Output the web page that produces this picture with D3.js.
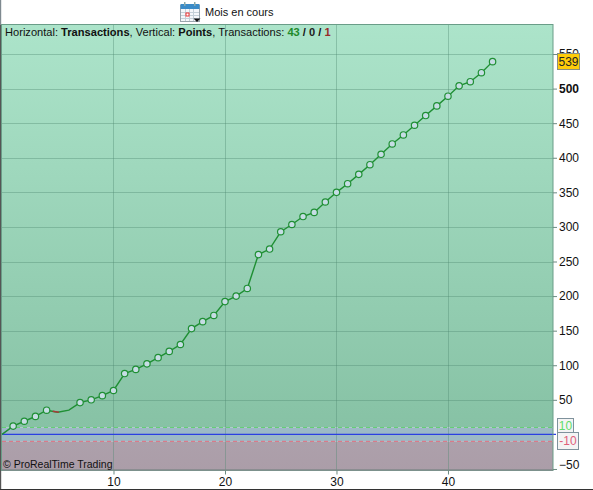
<!DOCTYPE html>
<html><head><meta charset="utf-8">
<script src="https://cdn.jsdelivr.net/npm/d3@7"></script>
<style>
html,body{margin:0;padding:0;background:#fff;overflow:hidden}
svg{display:block}
text{font-family:"Liberation Sans",Arial,sans-serif;fill:#111}
</style></head><body>
<script>
const tradeNumbers=[0,1,2,3,4,5,6,7,8,9,10,11,12,13,14,15,16,17,18,19,20,21,22,23,24,25,26,27,28,29,30,31,32,33,34,35,36,37,38,39,40,41,42,43,44];
const points=[0,12,19,26,35,32,35,46,50,56,63.5,88,94,102,111,120,130,153,163,172,192,200,211,260,268,293,303.5,315,321,336,350,362.5,376,390,405,420,433,447,461,475,489,504,510,523,539];
const noMarker=[0,5,6];
const lossX=[4.55,5.1];
const lossY=[33.4,32];
const xTicks=[10,20,30,40];
const yTicks=[-50,0,50,100,150,200,250,300,350,400,450,500,550];
const yLabels=[-50,50,100,150,200,250,300,350,400,450,500,550];
const bandLevels=[10,-10];

const W=593,H=490,L=2,R=553,T=25,B=470.5;
const x=d3.scaleLinear().domain([0,49.42]).range([2,553]);
const y=d3.scaleLinear().domain([0,500]).range([434.4,88.6]);
const svg=d3.select("body").append("svg").attr("width",W).attr("height",H);
const defs=svg.append("defs");
function grad(id,stops){const g=defs.append("linearGradient").attr("id",id).attr("x1",0).attr("x2",0).attr("y1",0).attr("y2",1);
 stops.forEach(s=>g.append("stop").attr("offset",s[0]).attr("stop-color",s[1]));}
grad("gTop",[[0,"#ace4ca"],[1,"#87c2a5"]]);
grad("gLow",[[0,"#ada0ab"],[1,"#ab9da8"]]);

// window chrome
svg.append("rect").attr("x",0).attr("y",0).attr("width",1.2).attr("height",25).attr("fill","#7f8a90");
svg.append("rect").attr("x",0).attr("y",25).attr("width",1.2).attr("height",465).attr("fill","#555");
svg.append("rect").attr("x",0).attr("y",489).attr("width",W).attr("height",1).attr("fill","#333");

// panel bands
svg.append("rect").attr("x",L).attr("y",T).attr("width",R-L).attr("height",y(bandLevels[0])-T).attr("fill","url(#gTop)");
svg.append("rect").attr("x",L).attr("y",y(bandLevels[0])).attr("width",R-L).attr("height",y(bandLevels[1])-y(bandLevels[0])).attr("fill","#9cb9c6");
svg.append("rect").attr("x",L).attr("y",y(bandLevels[1])).attr("width",R-L).attr("height",B-y(bandLevels[1])).attr("fill","url(#gLow)");

// grid
const grid=svg.append("g").attr("stroke","#4f8a72").attr("stroke-opacity",.38).attr("stroke-width",1);
yTicks.filter(d=>d!==0).forEach(d=>grid.append("line").attr("x1",L).attr("x2",R).attr("y1",Math.round(y(d))+.5).attr("y2",Math.round(y(d))+.5));
xTicks.forEach(d=>grid.append("line").attr("x1",Math.round(x(d))+.5).attr("x2",Math.round(x(d))+.5).attr("y1",T).attr("y2",B));

// level lines
svg.append("line").attr("x1",L).attr("x2",R).attr("y1",y(10)).attr("y2",y(10)).attr("stroke","#62cf72").attr("stroke-dasharray","4 3");
svg.append("line").attr("x1",L).attr("x2",R).attr("y1",y(-10)).attr("y2",y(-10)).attr("stroke","#e06c7c").attr("stroke-dasharray","4 3");
svg.append("line").attr("x1",L).attr("x2",R+3).attr("y1",y(0)).attr("y2",y(0)).attr("stroke","#2b3fe2").attr("stroke-width",1.1);

// panel border
svg.append("rect").attr("x",L-.5).attr("y",T-.5).attr("width",R-L+.5).attr("height",B-T+.5).attr("fill","none").attr("stroke","#6a9d88");
svg.append("line").attr("x1",L).attr("x2",R).attr("y1",B-.5).attr("y2",B-.5).attr("stroke","#8e8690").attr("stroke-width",1.2);

// axes
const xAxis=d3.axisBottom(x).tickValues(xTicks).tickSize(4).tickPadding(3).tickFormat(d3.format("d"));
const ax=svg.append("g").attr("transform",`translate(0,${B})`).call(xAxis);
ax.select(".domain").remove();
ax.selectAll("line").attr("stroke","#6c8a80");
ax.selectAll("text").attr("font-size",12).attr("fill","#111");
const yAxis=d3.axisRight(y).tickValues(yLabels).tickSize(4).tickPadding(2).tickFormat(d3.format("d"));
const ay=svg.append("g").attr("transform",`translate(${R},0)`).call(yAxis);
ay.select(".domain").remove();
ay.selectAll("line").attr("stroke","#6c8a80");
ay.selectAll("text").attr("font-size",12).attr("fill","#111").attr("font-weight",d=>d===500?"bold":"normal").attr("dy",d=>d===-50?"-0.02em":"0.32em");

// equity line
const series=tradeNumbers.map((n,i)=>({n,v:points[i]}));
const line=d3.line().x(d=>x(d.n)).y(d=>y(d.v));
svg.append("path").datum(series).attr("d",line).attr("fill","none").attr("stroke","#1f8f34").attr("stroke-width",1.4);
svg.append("path").datum(lossX.map((n,i)=>({n,v:lossY[i]}))).attr("d",line).attr("fill","none").attr("stroke","#a83a3a").attr("stroke-width",1.4);
svg.append("g").selectAll("circle").data(series.filter(d=>!noMarker.includes(d.n))).join("circle")
 .attr("cx",d=>x(d.n)).attr("cy",d=>y(d.v)).attr("r",3.2)
 .attr("fill","#c6dde4").attr("stroke","#1f8f34").attr("stroke-width",1.2);

// header
const head=svg.append("text").attr("x",5).attr("y",36).attr("font-size",11.1);
[["Horizontal: ",0],["Transactions",1],[", Vertical: ",0],["Points",1],[", Transactions: ",0]].forEach(p=>head.append("tspan").text(p[0]).attr("font-weight",p[1]?"bold":"normal"));
head.append("tspan").text("43").attr("font-weight","bold").style("fill","#1f8a2a");
head.append("tspan").text(" / ").attr("font-weight","bold");
head.append("tspan").text("0").attr("font-weight","bold").style("fill","#222");
head.append("tspan").text(" / ").attr("font-weight","bold");
head.append("tspan").text("1").attr("font-weight","bold").style("fill","#9a2a2a");

svg.append("text").attr("x",3).attr("y",468).attr("font-size",10.5).text("© ProRealTime Trading");
svg.append("text").attr("x",205).attr("y",16).attr("font-size",11).text("Mois en cours");

// value badges
function badge(bx,by,bw,bh,label,fill,stroke,color){
 svg.append("rect").attr("x",bx+.5).attr("y",by+.5).attr("width",bw).attr("height",bh).attr("fill",fill).attr("stroke",stroke);
 svg.append("text").attr("x",bx+.5+bw/2).attr("y",by+bh/2+4.5).attr("text-anchor","middle").attr("font-size",12).style("fill",color).text(label);
}
badge(557,53,22,16,"539","#ffcc0a","#8a8f80","#222");
badge(557,418,16,14,"10","#f4f4f4","#7f929c","#5fdc6a");
badge(557,432,21,17,"-10","#f4f4f4","#7f929c","#e0607a");

// calendar icon
const ic=svg.append("g").attr("transform","translate(180,2)");
ic.append("rect").attr("x",.5).attr("y",3.5).attr("width",19).attr("height",16).attr("fill","#f4f7fa").attr("stroke","#9aa5ad");
ic.append("rect").attr("x",.5).attr("y",2).attr("width",19).attr("height",5).attr("fill","#3a8bc8");
[4,14].forEach(d=>ic.append("rect").attr("x",d).attr("y",0).attr("width",1.5).attr("height",4).attr("fill","#8aa"));
[5,9,13].forEach(d=>ic.append("line").attr("x1",d+.5).attr("x2",d+.5).attr("y1",7).attr("y2",19).attr("stroke","#c4d0d8"));
[10,13,16].forEach(d=>ic.append("line").attr("x1",1).attr("x2",19).attr("y1",d+.5).attr("y2",d+.5).attr("stroke","#c4d0d8"));
ic.append("rect").attr("x",6).attr("y",11).attr("width",3).attr("height",3).attr("fill","#fff").attr("stroke","#e33");
ic.append("path").attr("d","M13.5 16.5h7l-3.5 3.5z").attr("fill","#111");
</script>
</body></html>
